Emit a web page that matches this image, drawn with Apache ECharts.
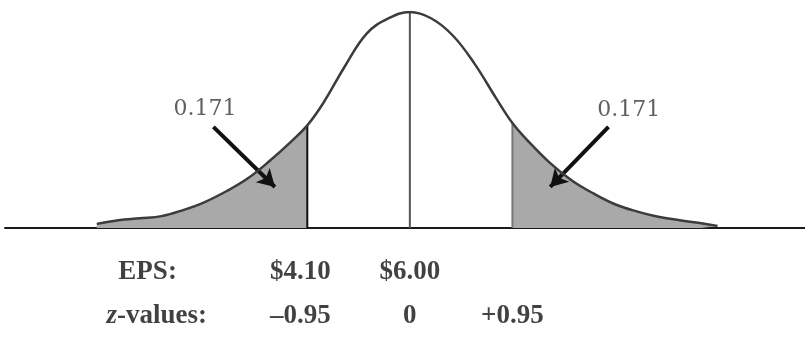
<!DOCTYPE html>
<html>
<head>
<meta charset="utf-8">
<script src="https://cdn.jsdelivr.net/npm/echarts@6/dist/echarts.min.js"></script>
<style>
  html, body { margin: 0; padding: 0; background: #fff; }
  #chart { width: 805px; height: 338px; }
</style>
</head>
<body>
<div id="chart"></div>
<script>
// Distribution of EPS in z-units: curve heights relative to the peak
const zPoints = [-2.9, -2.7, -2.5, -2.3, -2.1, -1.9, -1.7, -1.5, -1.3, -1.1, -0.95, -0.8, -0.6, -0.4, -0.2, 0,
                 0.2, 0.4, 0.6, 0.8, 0.95, 1.1, 1.3, 1.5, 1.7, 1.9, 2.1, 2.3, 2.5, 2.7, 2.85];
const density = [0.019, 0.036, 0.045, 0.055, 0.083, 0.12, 0.17, 0.23, 0.31, 0.40, 0.475, 0.58, 0.75, 0.90, 0.97, 1.0,
                 0.97, 0.89, 0.76, 0.60, 0.486, 0.40, 0.30, 0.22, 0.16, 0.11, 0.077, 0.052, 0.036, 0.022, 0.009];

// Cut-off z-values and the tail probability beyond each
const cutoffs = [-0.95, 0, 0.95];
const tailProb = ['0.171', '0.171'];

// Axis captions under the curve
const epsCaption = 'EPS:';
const epsLabels = ['$4.10', '$6.00'];
const zCaption = '{i|z}-values:';
const zLabels = ['\u20130.95', '0', '+0.95'];

// Layout (data coordinates)
const ROW_EPS = -0.204, ROW_Z = -0.407;
const CAPTION_X = [-2.70, -2.81];
const PROB_POS = [[-1.898, 0.551], [2.028, 0.546]];
const ARROWS = [
  [[-1.82, 0.468], [-1.25, 0.19]],
  [[1.84, 0.468], [1.30, 0.19]]
];

const curve = zPoints.map((z, i) => [z, density[i]]);
const heightAt = z => density[zPoints.indexOf(z)];
const leftTail = curve.filter(p => p[0] <= cutoffs[0]);
const rightTail = curve.filter(p => p[0] >= cutoffs[2]);

const SMOOTH = 0.4;
const SHADE = '#a9a9a9';
const serif = 'Liberation Serif';

function vline(z, color, width) {
  return {
    type: 'line', data: [[z, 0], [z, heightAt(z)]], symbol: 'none', silent: true,
    lineStyle: { color: color, width: width }, z: 4
  };
}

const textData = [];
textData.push({ value: [CAPTION_X[0], ROW_EPS], label: { formatter: epsCaption, align: 'left' } });
epsLabels.forEach((t, i) => textData.push({ value: [cutoffs[i], ROW_EPS], label: { formatter: t, offset: i === 0 ? [-7, 0] : [0, 0] } }));
textData.push({ value: [CAPTION_X[1], ROW_Z], label: { formatter: zCaption, align: 'left' } });
zLabels.forEach((t, i) => textData.push({ value: [cutoffs[i], ROW_Z], label: { formatter: t, offset: i === 0 ? [-7, 0] : [0, 0] } }));

const chart = echarts.init(document.getElementById('chart'));
chart.setOption({
  animation: false,
  backgroundColor: '#fff',
  grid: { left: 5, right: 0, top: 12, bottom: 0 },
  xAxis: {
    type: 'value', min: -3.75, max: 3.66,
    axisLine: { show: true, onZero: true, lineStyle: { color: '#1a1a1a', width: 2 } },
    axisTick: { show: false }, axisLabel: { show: false }, splitLine: { show: false }
  },
  yAxis: {
    type: 'value', min: -0.5093, max: 1, show: false,
    splitLine: { show: false }
  },
  series: [
    {
      type: 'line', data: leftTail, smooth: SMOOTH, symbol: 'none', silent: true,
      lineStyle: { width: 0 }, areaStyle: { color: SHADE, opacity: 1, origin: 0 }, z: 1
    },
    {
      type: 'line', data: rightTail, smooth: SMOOTH, symbol: 'none', silent: true,
      lineStyle: { width: 0 }, areaStyle: { color: SHADE, opacity: 1, origin: 0 }, z: 1
    },
    {
      type: 'line', data: curve, smooth: SMOOTH, symbol: 'none', silent: true,
      lineStyle: { color: '#3c3c3c', width: 2.5 }, z: 5
    },
    vline(cutoffs[0], '#111', 2),
    vline(cutoffs[1], '#555', 2),
    vline(cutoffs[2], '#777', 2),
    {
      type: 'scatter', symbolSize: 0, silent: true, z: 6,
      data: PROB_POS.map((p, i) => ({ value: p, label: { formatter: tailProb[i] } })),
      label: {
        show: true, position: 'inside', color: '#383838',
        fontFamily: 'DejaVu Serif', fontSize: 22
      },
      markLine: {
        silent: true, symbol: ['none', 'arrow'], symbolSize: [15, 17],
        label: { show: false },
        lineStyle: { color: '#111', width: 4, type: 'solid' },
        data: ARROWS.map(a => [{ coord: a[0] }, { coord: a[1] }])
      }
    },
    {
      type: 'scatter', symbolSize: 0, silent: true, z: 6,
      data: textData,
      label: {
        show: true, position: 'inside', color: '#111', verticalAlign: 'middle',
        fontFamily: serif, fontSize: 27, fontWeight: 'bold',
        rich: { i: { fontFamily: serif, fontSize: 27, fontWeight: 'bold', fontStyle: 'italic', color: '#111' } }
      }
    }
  ]
});
</script>
</body>
</html>
